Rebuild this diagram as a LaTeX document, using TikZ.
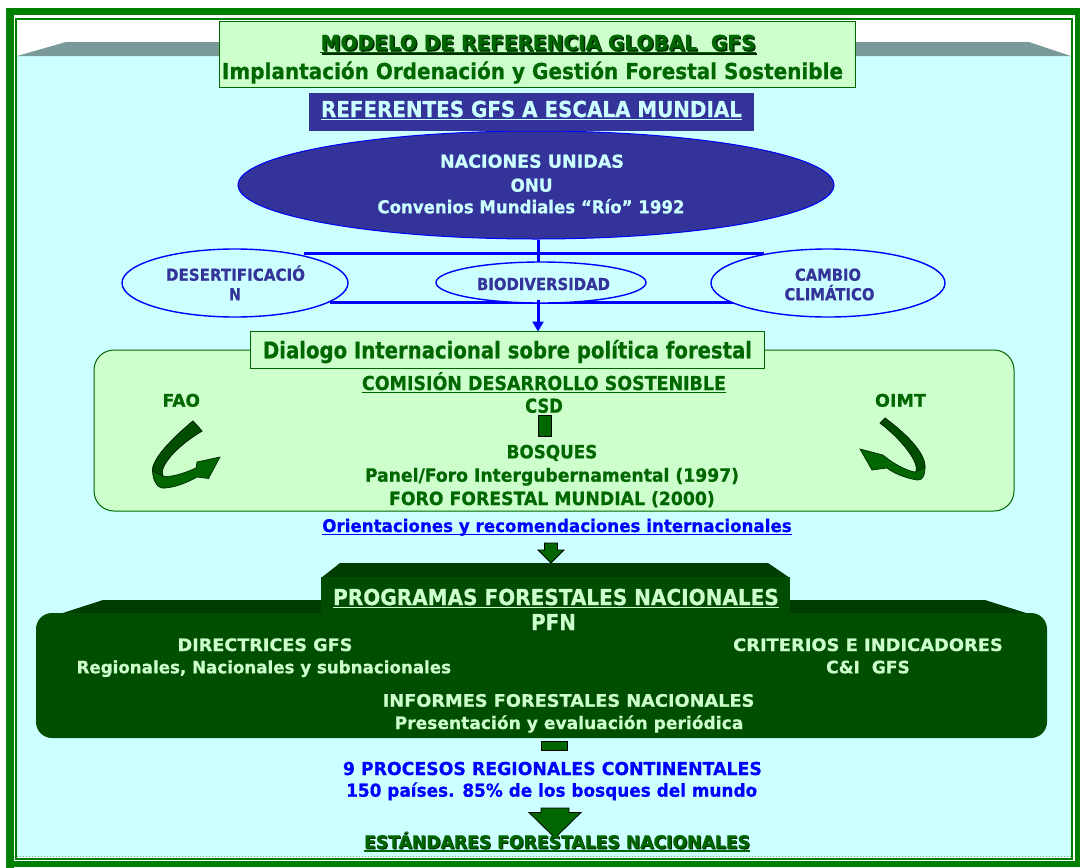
\documentclass[tikz,border=0pt]{standalone}
\usepackage{graphicx}
\usepackage{fontspec}
\setmainfont{DejaVu Sans}[FakeStretch=0.88,BoldFeatures={FakeBold=0.6}]
\usetikzlibrary{shapes.geometric,arrows.meta}
\definecolor{frameg}{HTML}{008000}
\definecolor{cyanbg}{HTML}{CCFFFF}
\definecolor{greyband}{HTML}{7A9999}
\definecolor{lgreen}{HTML}{CCFFCC}
\definecolor{dgreen}{HTML}{006600}
\definecolor{shadg}{HTML}{002A00}
\definecolor{navy}{HTML}{333399}
\definecolor{bblue}{HTML}{0000FF}
\definecolor{pfnfront}{HTML}{004F00}
\definecolor{pfnupper}{HTML}{004C00}
\definecolor{pfnbevel}{HTML}{003C00}
\definecolor{ribbonback}{HTML}{004D00}
\definecolor{dotgrey}{HTML}{999999}
% text fitted to a width (pt) and a cap height (pt)
\newcommand\fwh[3]{\scalebox{1}[\fpeval{#2/14.58}]{\resizebox{#1pt}{\height}{\fontsize{20pt}{24pt}\selectfont #3}}}
\begin{document}
\begin{tikzpicture}[x=1pt,y=-1pt,
  txt/.style={inner sep=0pt,anchor=base,font=\bfseries},
  ul/.style={line width=1.7pt},
  blueline/.style={draw=bblue,line width=3pt},
  oval/.style={ellipse,draw=bblue,line width=1.4pt,fill=cyanbg,inner sep=0pt},
  greenbox/.style={draw=dgreen,line width=1pt,fill=lgreen,inner sep=0pt},
  block/.style={fill=dgreen,draw=black,line width=0.8pt},
  ribbon/.style={fill=dgreen,draw=shadg,line width=0.7pt},
]
\useasboundingbox (0,0) rectangle (1080,868);
% background and frame
\fill[white] (0,0) rectangle (1080,868);
\fill[frameg] (6,8) rectangle (1080,15);
\fill[frameg] (6,8) rectangle (14,868);
\fill[frameg] (6,861) rectangle (1080,867);
\fill[frameg] (1075,8) rectangle (1080,867);
\fill[cyanbg] (17,56) rectangle (1071,857);
\fill[greyband] (17,56) -- (66,42) -- (1029,42) -- (1071,56) -- cycle;
\draw[frameg,line width=1.5pt] (16,19) rectangle (1072,859);
\draw[dotgrey,dotted,line width=1pt] (17,856) -- (1071,856);

% title box
\node[greenbox,minimum width=636pt,minimum height=66pt] (titlebox) at (537.5,54) {};
\node[txt,text=shadg] (t1s) at (539.5,51.5) {\fwh{435}{15}{MODELO DE REFERENCIA GLOBAL\ \ GFS}};
\draw[ul,shadg] ([yshift=-2.5pt]t1s.base west) -- ([yshift=-2.5pt]t1s.base east);
\node[txt,text=dgreen] (t1) at (538,50) {\fwh{435}{15}{MODELO DE REFERENCIA GLOBAL\ \ GFS}};
\draw[ul,dgreen] ([yshift=-2.5pt]t1.base west) -- ([yshift=-2.5pt]t1.base east);
\node[txt,text=dgreen] (t2) at (532.5,79) {\fwh{621}{16}{Implantación Ordenación y Gestión Forestal Sostenible}};

% ONU ellipse and referentes box
\node[ellipse,fill=navy,draw=bblue,line width=1pt,minimum width=596pt,minimum height=108pt,inner sep=0pt] (onu) at (536,185) {};
\node[fill=navy,minimum width=445pt,minimum height=38pt,inner sep=0pt] (refbox) at (531.5,112.3) {};
\node[txt,text=cyanbg] (t3) at (531.5,117) {\fwh{421}{16}{REFERENTES GFS A ESCALA MUNDIAL}};
\draw[ul,cyanbg] ([yshift=-2.5pt]t3.base west) -- ([yshift=-2.5pt]t3.base east);
\node[txt,text=cyanbg] (onu1) at (532,167.7) {\fwh{184}{13}{NACIONES UNIDAS}};
\node[txt,text=cyanbg] (onu2) at (531.6,191.7) {\fwh{42}{13}{ONU}};
\node[txt,text=cyanbg] (onu3) at (531,213.3) {\fwh{307}{13}{Convenios Mundiales “Río” 1992}};

% blue connectors
\coordinate (barL) at (304,253);
\coordinate (barR) at (764,253);
\coordinate (barC) at (538,253);
\coordinate (lowL) at (330,302);
\coordinate (lowR) at (735,302);
\draw[blueline] (barC |- onu.south) -- (barC);
\draw[blueline] (barL) -- (barR);
\draw[blueline] (lowL) -- (lowR);
\draw[blueline] (barC) -- (barC |- 0,300);

% small ellipses
\node[oval,minimum width=226pt,minimum height=68pt] (des) at (235,283) {};
\node[oval,minimum width=210pt,minimum height=41pt] (bio) at (541,282.5) {};
\node[oval,minimum width=234pt,minimum height=68pt] (cam) at (828,283) {};
\node[txt,text=navy] (des1) at (235.5,280.7) {\fwh{139}{12}{DESERTIFICACIÓ}};
\node[txt,text=navy] (des2) at (235,300.2) {\fwh{12}{12}{N}};
\node[txt,text=navy] (bio1) at (543.5,290) {\fwh{133}{12}{BIODIVERSIDAD}};
\node[txt,text=navy] (cam1) at (828,280.7) {\fwh{66}{12}{CAMBIO}};
\node[txt,text=navy] (cam2) at (829.5,300.2) {\fwh{90}{12}{CLIMÁTICO}};

% green dialogue box
\node[greenbox,rounded corners=20pt,minimum width=920pt,minimum height=161pt] (gbox) at (554,430.5) {};
\node[greenbox,minimum width=514pt,minimum height=37pt] (dlg) at (507,349.5) {};
\node[txt,text=dgreen] (dlgt) at (507.5,358.3) {\fwh{489}{16.7}{Dialogo Internacional sobre política forestal}};
\draw[blueline,-{Triangle[length=10pt,width=11pt]}] (barC |- 0,300) -- ([yshift=-1pt]barC |- dlg.north);

\node[txt,text=dgreen] (csd1) at (544,390) {\fwh{364}{14}{COMISIÓN DESARROLLO SOSTENIBLE}};
\draw[ul,dgreen] ([yshift=-2.5pt]csd1.base west) -- ([yshift=-2.5pt]csd1.base east);
\node[txt,text=dgreen] (csd2) at (544,412.7) {\fwh{37.7}{14}{CSD}};
\node[block,minimum width=13pt,minimum height=21pt,inner sep=0pt] (csdbar) at (545,426) {};
\node[txt,text=dgreen] (bos1) at (552,458.3) {\fwh{90.6}{13.3}{BOSQUES}};
\node[txt,text=dgreen] (bos2) at (552,481.7) {\fwh{374}{13.3}{Panel/Foro Intergubernamental (1997)}};
\node[txt,text=dgreen] (bos3) at (552,505) {\fwh{325.7}{13.3}{FORO FORESTAL MUNDIAL (2000)}};
\node[txt,text=dgreen] (fao) at (181.3,406.7) {\fwh{37.3}{12.7}{FAO}};
\node[txt,text=dgreen] (oimt) at (900.5,406.7) {\fwh{51}{12.7}{OIMT}};

% curved ribbon arrows
\draw[ribbon] (193,421) .. controls (175,436) and (152,458) .. (152.5,471)
  .. controls (153,482) and (158,489) .. (165,488)
  .. controls (178,487) and (190,481) .. (197,477)
  -- (208.5,478.5) -- (220,457) -- (197,462) -- (196,468)
  .. controls (185,473) and (170,478) .. (163,476)
  .. controls (158,468) and (175,447) .. (202,431) -- cycle;
\draw[ribbon,fill=ribbonback] (193,421) .. controls (175,436) and (152,458) .. (152.5,471)
  -- (163,476) .. controls (158,468) and (175,447) .. (202,431) -- cycle;
\draw[ribbon] (885,418) .. controls (905,433) and (925,452) .. (925,467)
  .. controls (925,476) and (922,481) .. (917,480)
  .. controls (905,478) and (893,473) .. (887,468)
  -- (872,470) -- (860,449) -- (883,455) -- (890,460.5)
  .. controls (898,466) and (910,472) .. (916,472)
  .. controls (920,462) and (900,438) .. (880,423) -- cycle;
\draw[ribbon,fill=ribbonback] (885,418) .. controls (905,433) and (925,452) .. (925,467)
  -- (916,472) .. controls (920,462) and (900,438) .. (880,423) -- cycle;

% orientaciones
\node[txt,text=bblue] (ori) at (557,532) {\fwh{469.4}{12.7}{Orientaciones y recomendaciones internacionales}};
\draw[ul,bblue] ([yshift=-2.5pt]ori.base west) -- ([yshift=-2.5pt]ori.base east);
\coordinate (a1) at (551,543);
\draw[block] ([xshift=-6.5pt]a1) -- ([xshift=6.5pt]a1) -- ([shift={(6.5,7)}]a1) -- ([shift={(13,7)}]a1)
  -- ([shift={(0,20)}]a1) -- ([shift={(-13,7)}]a1) -- ([shift={(-6.5,7)}]a1) -- cycle;

% PFN block
\fill[pfnbevel] (38,621) -- (103,600) -- (985,600) -- (1042,618) -- cycle;
\fill[pfnfront,rounded corners=16pt] (36,613) rectangle (1047,738);
\fill[pfnbevel] (321,578) -- (340,563) -- (768,563) -- (790,578) -- cycle;
\fill[pfnupper] (321,577) rectangle (790,640);
\node[txt,text=lgreen] (pfn1) at (556,605) {\fwh{445.7}{16}{PROGRAMAS FORESTALES NACIONALES}};
\draw[ul,lgreen] ([yshift=-2.5pt]pfn1.base west) -- ([yshift=-2.5pt]pfn1.base east);
\node[txt,text=lgreen] (pfn2) at (553.5,630) {\fwh{45}{16}{PFN}};
\node[txt,text=lgreen] (dir1) at (265,651) {\fwh{174.8}{12.5}{DIRECTRICES GFS}};
\node[txt,text=lgreen] (dir2) at (263.8,673.3) {\fwh{374.5}{12.5}{Regionales, Nacionales y subnacionales}};
\node[txt,text=lgreen] (cri1) at (868,651) {\fwh{269.7}{12.5}{CRITERIOS E INDICADORES}};
\node[txt,text=lgreen] (cri2) at (868,673.3) {\fwh{83.7}{12.5}{C\&I\ \ GFS}};
\node[txt,text=lgreen] (inf1) at (568.6,706.7) {\fwh{371.7}{12.5}{INFORMES FORESTALES NACIONALES}};
\node[txt,text=lgreen] (inf2) at (569,729) {\fwh{348.6}{12.5}{Presentación y evaluación periódica}};

% bottom
\node[block,minimum width=26pt,minimum height=9pt,inner sep=0pt] (pfnlink) at (554,745.5) {};
\node[txt,text=bblue] (proc1) at (552.4,775) {\fwh{419}{13}{9 PROCESOS REGIONALES CONTINENTALES}};
\node[txt,text=bblue] (proc2) at (551.7,796.7) {\fwh{411}{13}{150 países. 85\% de los bosques del mundo}};
\coordinate (a2) at (555,808);
\draw[block] ([xshift=-14pt]a2) -- ([xshift=14pt]a2) -- ([shift={(14,4.5)}]a2) -- ([shift={(26,4.5)}]a2)
  -- ([shift={(0,30)}]a2) -- ([shift={(-26,4.5)}]a2) -- ([shift={(-14,4.5)}]a2) -- cycle;
\node[txt,text=shadg] (est0) at (558,849.3) {\fwh{386}{13}{ESTÁNDARES FORESTALES NACIONALES}};
\node[txt,text=dgreen] (est) at (557,848.3) {\fwh{386}{13}{ESTÁNDARES FORESTALES NACIONALES}};
\draw[ul,dgreen] ([yshift=-2.5pt]est.base west) -- ([yshift=-2.5pt]est.base east);
\end{tikzpicture}
\end{document}
